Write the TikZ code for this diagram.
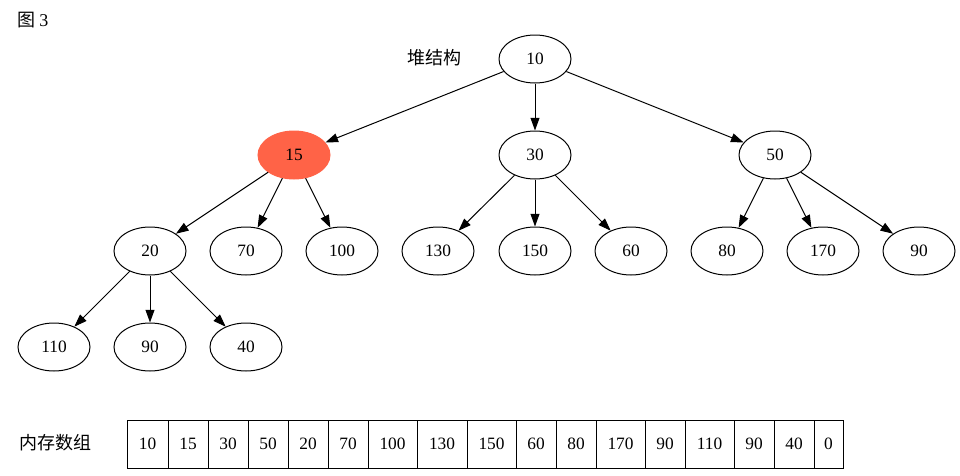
\documentclass[tikz,border=0pt]{standalone}
\usepackage{fontspec}
\setmainfont{Liberation Serif}
\newfontfamily\cjk{Noto Sans CJK SC}
\usetikzlibrary{arrows.meta,shapes.geometric}
\definecolor{tomato}{HTML}{FF6347}
\begin{document}
\begin{tikzpicture}[x=0.75pt,y=-0.75pt,
  hn/.style={ellipse,draw,line width=0.75pt,minimum width=54pt,minimum height=36pt,inner sep=0pt,font=\fontsize{13}{15}\selectfont},
  hot/.style={hn,draw=tomato,fill=tomato},
  edge/.style={draw,line width=0.75pt,-{Triangle[length=9.5pt,width=6.7pt]}},
  cell/.style={draw,line width=0.75pt,minimum height=36pt,inner sep=0pt,font=\fontsize{13}{15}\selectfont},
  lbl/.style={inner sep=0pt,font=\cjk\fontsize{13.5}{15}\selectfont}]
\useasboundingbox (0,0) rectangle (960,475);
\node[lbl,anchor=west] (fig) at (17,20) {图 {\fontsize{13.5}{15}\rmfamily 3}};
\node[lbl] (heap) at (434,58) {堆结构};
\node[lbl] (mem) at (55,443) {内存数组};
% tree
\node[hn] (n10) at (535,59) {10};
\node[hot] (n15) at (294,155) {15};
\node[hn] (n30) at (535,155) {30};
\node[hn] (n50) at (775,155) {50};
\node[hn] (n20) at (150,251) {20};
\node[hn] (n70) at (246,251) {70};
\node[hn] (n100) at (342,251) {100};
\node[hn] (n130) at (438,251) {130};
\node[hn] (n150) at (535,251) {150};
\node[hn] (n60) at (631,251) {60};
\node[hn] (n80) at (727,251) {80};
\node[hn] (n170) at (823,251) {170};
\node[hn] (n90a) at (919,251) {90};
\node[hn] (n110) at (54,347) {110};
\node[hn] (n90b) at (150,347) {90};
\node[hn] (n40) at (246,347) {40};
\foreach \a/\b in {n10/n15,n10/n30,n10/n50,n15/n20,n15/n70,n15/n100,n30/n130,n30/n150,n30/n60,n50/n80,n50/n170,n50/n90a,n20/n110,n20/n90b,n20/n40}
  \draw[edge] (\a) -- (\b);
% array
\foreach \l/\r/\v [count=\i] in {127/168/10,168/208/15,208/248/30,248/288/50,288/328/20,328/368/70,368/417/100,417/467/130,467/516/150,516/556/60,556/596/80,596/645/170,645/685/90,685/734/110,734/774/90,774/814/40,814/843/0}{
  \pgfmathsetmacro\w{(\r-\l)*0.75}
  \pgfmathsetmacro\c{(\r+\l)/2}
  \node[cell,minimum width=\w pt] (a\i) at (\c,444) {\v};
}
\end{tikzpicture}
\end{document}
